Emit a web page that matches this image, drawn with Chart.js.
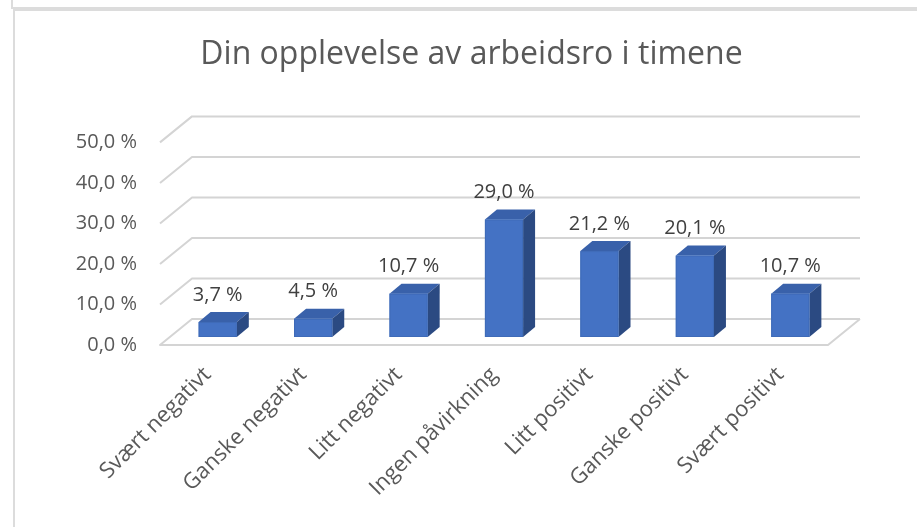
<!DOCTYPE html>
<html><head><meta charset="utf-8">
<script src="https://cdn.jsdelivr.net/npm/chart.js@4.4.0/dist/chart.umd.min.js"></script>
<style>
html,body{margin:0;padding:0;background:#fff;}
#wrap{position:relative;width:917px;height:527px;overflow:hidden;background:#fff;}
#box1{position:absolute;left:11px;top:-10px;width:1000px;height:15px;border:2px solid #dcdcdc;}
#box2{position:absolute;left:13px;top:9px;width:1000px;height:600px;border:2px solid #dcdcdc;}
canvas{position:absolute;left:0;top:0;}
</style></head><body>
<div id="wrap"><div id="box1"></div><div id="box2"></div><canvas id="c" width="917" height="527"></canvas></div>
<script>
const titleText = 'Din opplevelse av arbeidsro i timene';
const categories = ['Svært negativt','Ganske negativt','Litt negativt','Ingen påvirkning','Litt positivt','Ganske positivt','Svært positivt'];
const values = [3.7, 4.5, 10.7, 29.0, 21.2, 20.1, 10.7];
const tickLabels = ['0,0 %','10,0 %','20,0 %','30,0 %','40,0 %','50,0 %'];
const valueLabels = values.map(v => v.toFixed(1).replace('.', ',') + ' %');

const WALL = {dx: 32, dy: -26};
const SHIFT = {dx: 10, dy: -8};
const BOX = {dx: 12, dy: -10};

const wall3d = {
  id: 'wall3d',
  beforeDatasetsDraw(chart) {
    const {ctx, chartArea: a, scales: {y}} = chart;
    ctx.save();
    ctx.strokeStyle = '#d4d4d4';
    ctx.lineWidth = 2;
    ctx.lineJoin = 'round';
    y.ticks.forEach(t => {
      const yf = y.getPixelForValue(t.value);
      ctx.beginPath();
      if (t.value === 0) {
        ctx.moveTo(a.right + WALL.dx, yf + WALL.dy);
        ctx.lineTo(a.right, yf);
        ctx.lineTo(a.left, yf);
        ctx.lineTo(a.left + WALL.dx, yf + WALL.dy);
        ctx.lineTo(a.right + WALL.dx, yf + WALL.dy);
      } else {
        ctx.moveTo(a.left, yf);
        ctx.lineTo(a.left + WALL.dx, yf + WALL.dy);
        ctx.lineTo(a.right + WALL.dx, yf + WALL.dy);
      }
      ctx.stroke();
    });
    ctx.restore();
  }
};

const bars3d = {
  id: 'bars3d',
  afterDatasetsDraw(chart) {
    const {ctx} = chart;
    const meta = chart.getDatasetMeta(0);
    ctx.save();
    meta.data.forEach((el, i) => {
      const w = el.width;
      const fx = el.x - w / 2 + SHIFT.dx;
      const ft = el.y + SHIFT.dy;
      const fb = el.base + SHIFT.dy;
      ctx.fillStyle = '#3961AA';
      ctx.beginPath();
      ctx.moveTo(fx, ft); ctx.lineTo(fx + w, ft);
      ctx.lineTo(fx + w + BOX.dx, ft + BOX.dy); ctx.lineTo(fx + BOX.dx, ft + BOX.dy);
      ctx.closePath(); ctx.fill();
      ctx.fillStyle = '#2B4A82';
      ctx.beginPath();
      ctx.moveTo(fx + w, ft); ctx.lineTo(fx + w + BOX.dx, ft + BOX.dy);
      ctx.lineTo(fx + w + BOX.dx, fb + BOX.dy); ctx.lineTo(fx + w, fb);
      ctx.closePath(); ctx.fill();
      ctx.fillStyle = '#4472C4';
      ctx.fillRect(fx, ft, w, fb - ft);
      ctx.strokeStyle = '#3F6BB8';
      ctx.lineWidth = 1;
      ctx.strokeRect(fx + 0.5, ft + 0.5, w - 1, fb - ft - 1);
      ctx.fillStyle = '#404040';
      ctx.font = '20px "Open Sans"';
      ctx.textAlign = 'center';
      ctx.textBaseline = 'middle';
      ctx.fillText(valueLabels[i], fx + w / 2, ft + BOX.dy - 17);
    });
    ctx.restore();
  }
};

new Chart(document.getElementById('c'), {
  type: 'bar',
  data: {
    labels: categories,
    datasets: [{
      data: values,
      backgroundColor: 'rgba(0,0,0,0)',
      borderWidth: 0,
      barPercentage: 0.4,
      categoryPercentage: 1.0
    }]
  },
  options: {
    responsive: false,
    animation: false,
    devicePixelRatio: 1,
    layout: {padding: {left: 26, right: 0, top: 0, bottom: 0}},
    plugins: {
      legend: {display: false},
      tooltip: {enabled: false},
      title: {
        display: true,
        text: titleText,
        color: '#595959',
        font: {family: 'Open Sans', size: 32, weight: 'normal', lineHeight: 1.2},
        padding: {top: 36, bottom: 68}
      }
    },
    scales: {
      x: {
        grid: {display: false, drawTicks: false},
        border: {display: false},
        ticks: {
          color: '#595959',
          font: {family: 'Open Sans', size: 22},
          minRotation: 45, maxRotation: 45,
          padding: 17,
          labelOffset: 0,
          autoSkip: false
        },
        afterFit(s) { s.height = 182; }
      },
      y: {
        min: 0, max: 50,
        grid: {display: false, drawTicks: false},
        border: {display: false},
        ticks: {
          stepSize: 10,
          color: '#595959',
          font: {family: 'Open Sans', size: 20},
          padding: 23,
          callback: (v, i) => tickLabels[i]
        },
        afterFit(s) { s.width = 134; }
      },
      yRight: {
        position: 'right',
        min: 0, max: 50,
        grid: {display: false, drawTicks: false},
        border: {display: false},
        ticks: {display: false},
        afterFit(s) { s.width = 89; }
      }
    }
  },
  plugins: [wall3d, bars3d]
});
</script>
</body></html>
